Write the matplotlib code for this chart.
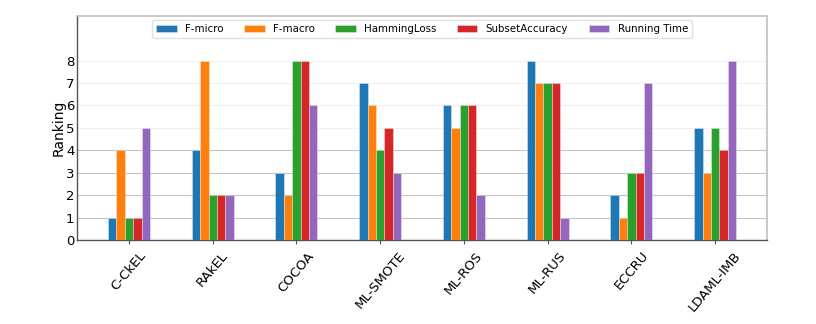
import matplotlib
matplotlib.use("Agg")
import matplotlib.pyplot as plt
import numpy as np

categories = ["C-CkEL", "RAkEL", "COCOA", "ML-SMOTE", "ML-ROS", "ML-RUS", "ECCRU", "LDAML-IMB"]
f_micro = [1, 4, 3, 7, 6, 8, 2, 5]
f_macro = [4, 8, 2, 6, 5, 7, 1, 3]
hamming_loss = [1, 2, 8, 4, 6, 7, 3, 5]
subset_accuracy = [1, 2, 8, 5, 6, 7, 3, 4]
running_time = [5, 2, 6, 3, 2, 1, 7, 8]
series_names = ["F-micro", "F-macro", "HammingLoss", "SubsetAccuracy", "Running Time"]
yticks = [0, 1, 2, 3, 4, 5, 6, 7, 8]

series = [f_micro, f_macro, hamming_loss, subset_accuracy, running_time]
colors = ["#1f77b4", "#ff7f0e", "#2ca02c", "#d62728", "#9467bd"]

fig = plt.figure(figsize=(8.16, 3.24), dpi=100)
ax = fig.add_axes([0.0944, 0.259, 0.8456, 0.6925])

x = np.arange(len(categories))
n = len(series)
bw = 0.5 / n
for i, (vals, name, c) in enumerate(zip(series, series_names, colors)):
    ax.bar(x + (i - (n - 1) / 2) * bw, vals, width=bw, color=c, label=name,
           edgecolor=(1, 1, 1, 0.4), linewidth=0.6, zorder=3)

ax.set_xlim(-0.62, len(categories) - 1 + 0.62)
ax.set_ylim(0, 10)
ax.set_yticks(yticks)
ax.set_xticks(x)
ax.set_xticklabels(categories, rotation=50, ha="center", fontsize=9.5)
ax.tick_params(axis="y", labelsize=9.5, length=0, pad=2)
ax.tick_params(axis="x", length=3, color="#555555")
ax.set_ylabel("Ranking", fontsize=10, labelpad=0)
ax.yaxis.grid(True, color="#c4c4c4", linewidth=0.8, zorder=0)
ax.set_axisbelow(True)
for t, gl in zip(ax.get_yticks(), ax.yaxis.get_gridlines()):
    if t >= 5:
        gl.set_color("#f0f0f0")

for s in ["left", "bottom"]:
    ax.spines[s].set_color("#555555")
    ax.spines[s].set_linewidth(1.0)
for s in ["top", "right"]:
    ax.spines[s].set_color("#c0c0c0")
    ax.spines[s].set_linewidth(1.2)

ax.legend(loc="upper center", ncol=5, fontsize=7.4, frameon=True, framealpha=1,
          edgecolor="#e0e0e0", borderaxespad=0.4, handlelength=2.0,
          columnspacing=2.0, fancybox=True)

fig.savefig("out.png", dpi=100)
